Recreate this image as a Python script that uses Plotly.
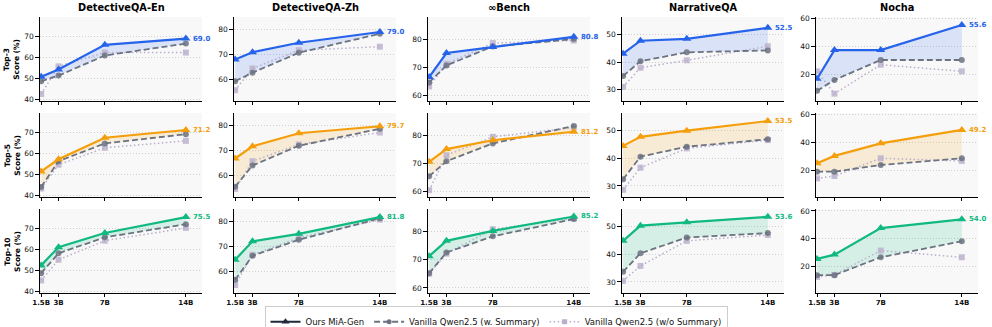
import plotly.graph_objects as go
from plotly.subplots import make_subplots

DATASETS = ['DetectiveQA-En', 'DetectiveQA-Zh', '∞Bench', 'NarrativeQA', 'Nocha']
TOPK = ['Top-3', 'Top-5', 'Top-10']
SIZES = [1.5, 3, 7, 14]
SIZE_LABELS = ['1.5B', '3B', '7B', '14B']

# one list per dataset, values for 1.5B / 3B / 7B / 14B
MIA_TOP3 = [[50.7, 54.2, 66.0, 69.0], [68.0, 70.9, 74.7, 79.0], [66.6, 75.1, 77.2, 80.8],
            [43.1, 47.8, 48.5, 52.5], [17.1, 37.6, 37.6, 55.6]]
SUM_TOP3 = [[48.6, 51.3, 60.9, 66.6], [59.3, 62.7, 70.7, 78.3], [64.7, 70.7, 77.4, 80.0],
            [35.0, 40.4, 43.6, 44.3], [8.4, 16.2, 30.5, 30.5]]
NOSUM_TOP3 = [[42.5, 55.7, 62.3, 62.3], [55.7, 64.4, 71.7, 73.1], [63.3, 71.3, 78.6, 79.5],
              [31.1, 38.0, 40.7, 45.8], [22.4, 6.4, 27.1, 22.4]]

MIA_TOP5 = [[51.4, 57.2, 67.5, 71.2], [66.8, 71.7, 76.9, 79.7], [70.6, 75.1, 78.2, 81.2],
            [44.5, 47.8, 50.0, 53.5], [25.3, 30.6, 39.6, 49.2]]
SUM_TOP5 = [[44.0, 56.3, 64.8, 69.2], [55.5, 64.0, 71.9, 78.7], [65.5, 70.8, 77.1, 83.2],
            [32.4, 40.6, 44.2, 46.9], [19.3, 19.3, 24.1, 28.9]]
NOSUM_TOP5 = [[43.2, 54.6, 62.7, 66.0], [54.6, 65.7, 72.4, 77.2], [60.6, 72.9, 79.4, 82.7],
              [28.6, 36.6, 43.6, 46.6], [14.5, 16.2, 28.9, 27.0]]

MIA_TOP10 = [[52.4, 61.1, 67.9, 75.5], [64.7, 72.1, 75.1, 81.8], [71.2, 76.6, 80.1, 85.2],
             [44.9, 50.4, 51.6, 53.6], [25.6, 28.7, 47.7, 54.0]]
SUM_TOP10 = [[48.7, 58.2, 65.8, 72.1], [56.7, 66.3, 72.7, 81.3], [65.2, 72.5, 78.2, 84.3],
             [33.7, 40.4, 46.1, 47.7], [14.0, 14.0, 26.8, 38.3]]
NOSUM_TOP10 = [[45.2, 55.1, 64.2, 70.3], [54.6, 66.7, 73.5, 80.8], [65.0, 72.1, 80.7, 84.5],
               [30.4, 35.8, 44.9, 47.0], [12.7, 14.2, 31.6, 26.8]]

MIA = [MIA_TOP3, MIA_TOP5, MIA_TOP10]
SUMM = [SUM_TOP3, SUM_TOP5, SUM_TOP10]
NOSUMM = [NOSUM_TOP3, NOSUM_TOP5, NOSUM_TOP10]

ROW_COLORS = ['#2563eb', '#f59e0b', '#10b981']
ROW_FILLS = ['rgba(37,99,235,0.15)', 'rgba(245,158,11,0.15)', 'rgba(16,185,129,0.15)']
SUM_COLOR = '#6b7280'
NOSUM_COLOR = '#b9aecb'

Y_RANGES = [[39.2, 79.3], [51.4, 85.0], [58.2, 87.8], [26.0, 56.4], [1.2, 61.3]]
Y_DTICK = [10, 10, 10, 10, 20]

FONT = 'DejaVu Sans'

fig = make_subplots(rows=3, cols=5, horizontal_spacing=0.034, vertical_spacing=0.044)

for r in range(3):
    for c in range(5):
        mia = MIA[r][c]
        summ = SUMM[r][c]
        nosumm = NOSUMM[r][c]
        # shaded gap between ours and the summary baseline
        fig.add_trace(go.Scatter(x=SIZES, y=summ, mode='lines', line=dict(width=0),
                                 showlegend=False, hoverinfo='skip'), row=r + 1, col=c + 1)
        fig.add_trace(go.Scatter(x=SIZES, y=mia, mode='lines', line=dict(width=0),
                                 fill='tonexty', fillcolor=ROW_FILLS[r],
                                 showlegend=False, hoverinfo='skip'), row=r + 1, col=c + 1)
        fig.add_trace(go.Scatter(
            x=SIZES, y=nosumm, mode='lines+markers', showlegend=False,
            line=dict(color=NOSUM_COLOR, width=1.5, dash='1.5px,2.5px'),
            marker=dict(symbol='square', size=6, color=NOSUM_COLOR, opacity=0.8)
        ), row=r + 1, col=c + 1)
        fig.add_trace(go.Scatter(
            x=SIZES, y=summ, mode='lines+markers', showlegend=False,
            line=dict(color=SUM_COLOR, width=1.8, dash='6px,3px'),
            marker=dict(symbol='circle', size=6, color=SUM_COLOR, opacity=0.85)
        ), row=r + 1, col=c + 1)
        fig.add_trace(go.Scatter(
            x=SIZES, y=mia, mode='lines+markers', showlegend=False,
            line=dict(color=ROW_COLORS[r], width=2.2),
            marker=dict(symbol='triangle-up', size=8, color=ROW_COLORS[r])
        ), row=r + 1, col=c + 1)
        fig.add_annotation(x=SIZES[-1], y=mia[-1], text=f'{mia[-1]:.1f}', showarrow=False,
                           xanchor='left', xshift=5, row=r + 1, col=c + 1,
                           font=dict(family=FONT, size=7, color=ROW_COLORS[r], weight='bold'))

        fig.update_xaxes(range=[1.4, 15.4], tickvals=SIZES, ticktext=SIZE_LABELS,
                         showticklabels=(r == 2), row=r + 1, col=c + 1)
        fig.update_yaxes(range=Y_RANGES[c], dtick=Y_DTICK[c], row=r + 1, col=c + 1)

fig.update_xaxes(showline=True, linecolor='black', linewidth=1.3, ticks='outside',
                 ticklen=2.5, tickcolor='black', showgrid=False, zeroline=False,
                 tickangle=0, automargin=False,
                 tickfont=dict(family=FONT, size=7, color='#111', weight='bold'))
fig.update_yaxes(showline=True, linecolor='black', linewidth=1.3, ticks='outside',
                 ticklen=3.5, tickcolor='black', showgrid=True, gridcolor='#cfcfcf',
                 griddash='1px,2px', gridwidth=0.8, zeroline=False, automargin=False,
                 tickfont=dict(family=FONT, size=7.5, color='#111'))

# legend-only entries
fig.add_trace(go.Scatter(x=[None], y=[None], mode='lines+markers', name='Ours MiA-Gen',
                         line=dict(color='#1e293b', width=2.2),
                         marker=dict(symbol='triangle-up', size=7, color='#1e293b')))
fig.add_trace(go.Scatter(x=[None], y=[None], mode='lines+markers',
                         name='Vanilla Qwen2.5 (w. Summary)',
                         line=dict(color=SUM_COLOR, width=1.8, dash='6px,3px'),
                         marker=dict(symbol='circle', size=5, color=SUM_COLOR)))
fig.add_trace(go.Scatter(x=[None], y=[None], mode='lines+markers',
                         name='Vanilla Qwen2.5 (w/o Summary)',
                         line=dict(color=NOSUM_COLOR, width=1.5, dash='1.5px,2.5px'),
                         marker=dict(symbol='square', size=5, color=NOSUM_COLOR)))

# column titles
for c, name in enumerate(DATASETS):
    xa = fig.layout['xaxis' if c == 0 else f'xaxis{c + 1}']
    fig.add_annotation(x=sum(xa.domain) / 2, y=1.0, xref='paper', yref='paper',
                       yshift=10, text=name, showarrow=False,
                       xanchor='center', yanchor='middle',
                       font=dict(family=FONT, size=9.8, color='black', weight='bold'))

# row labels
for r, k in enumerate(TOPK):
    ya = fig.layout['yaxis' if r == 0 else f'yaxis{r * 5 + 1}']
    fig.add_annotation(x=-0.030, y=sum(ya.domain) / 2, xref='paper', yref='paper',
                       text=f'{k}<br>Score (%)', showarrow=False, textangle=-90,
                       xanchor='center', yanchor='middle',
                       font=dict(family=FONT, size=7.5, color='black', weight='bold'))

fig.update_layout(
    width=992, height=327,
    margin=dict(l=40, r=14, t=17, b=34, autoexpand=False),
    paper_bgcolor='white', plot_bgcolor='#f8f8f8',
    font=dict(family=FONT, color='#111'),
    legend=dict(orientation='h', traceorder='normal',
                x=0.5, xref='container', xanchor='center',
                y=-0.048, yanchor='top',
                bordercolor='#cccccc', borderwidth=1, bgcolor='white',
                font=dict(family=FONT, size=8.5), itemwidth=30,
                tracegroupgap=0),
)

fig.write_html('out.html', config={'displayModeBar': False},
               post_script="document.body.style.margin='0';")
